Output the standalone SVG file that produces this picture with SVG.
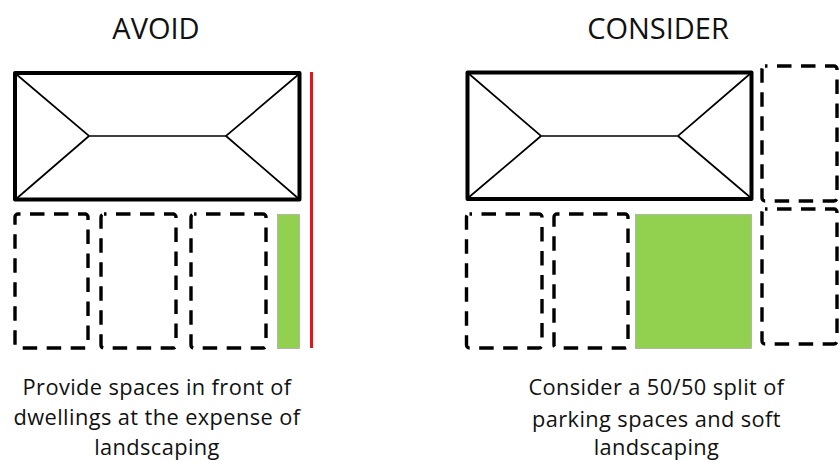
<svg xmlns="http://www.w3.org/2000/svg" width="839" height="461" viewBox="0 0 839 461">
<style>
text{font-family:"Open Sans","Noto Sans","Liberation Sans",sans-serif;fill:#111;text-anchor:middle}
.h{font-size:29px}
.c{font-size:21.800px;letter-spacing:.4px}
.o{fill:#fff;stroke:#000;stroke-width:4;stroke-linejoin:round}
.r{fill:none;stroke:#000;stroke-width:1.7}
.d{fill:none;stroke:#000;stroke-width:3.400;stroke-dasharray:14.500 9.500;stroke-dashoffset:12}
.g{fill:#92d050;stroke:#a6a6a6;stroke-width:.7}
</style>
<rect width="839" height="461" fill="#fff"/>
<g id="avoid-title"><text class="h" x="156" y="38.500">AVOID</text></g>
<g id="consider-title"><text class="h" x="658" y="38.500">CONSIDER</text></g>
<g id="avoid-building">
<rect class="o" x="15" y="73" width="284.500" height="126.500"/>
<path class="r" d="M16 74L89 136L226 136L299 74M16 199L89 136M226 136L299 199"/>
</g>
<g id="avoid-space-1"><rect class="d" x="15" y="214" width="73" height="134" rx="3"/></g>
<g id="avoid-space-2"><rect class="d" x="101" y="214" width="75" height="134" rx="3"/></g>
<g id="avoid-space-3"><rect class="d" x="191" y="214" width="75" height="134" rx="3"/></g>
<g id="avoid-green"><rect class="g" x="277.500" y="214.500" width="22" height="134"/></g>
<g id="avoid-boundary"><rect x="310" y="72" width="3" height="276" fill="#e8141c"/></g>
<g id="consider-building">
<rect class="o" x="467.500" y="72.500" width="284" height="126.500"/>
<path class="r" d="M468 73L541 136L678 136L751 73M468 198L541 136M678 136L751 198"/>
</g>
<g id="consider-space-1"><rect class="d" x="466.500" y="214" width="75.500" height="134" rx="3"/></g>
<g id="consider-space-2"><rect class="d" x="554" y="214" width="74" height="134" rx="3"/></g>
<g id="consider-green"><rect class="g" x="635.500" y="214.500" width="116" height="134"/></g>
<g id="consider-space-3"><rect class="d" x="762" y="66" width="75" height="135" rx="3"/></g>
<g id="consider-space-4"><rect class="d" x="762" y="209" width="75" height="135" rx="3"/></g>
<g id="avoid-caption">
<text class="c" x="157" y="395">Provide spaces in front of</text>
<text class="c" x="157" y="425">dwellings at the expense of</text>
<text class="c" x="157" y="455">landscaping</text>
</g>
<g id="consider-caption">
<text class="c" x="656.500" y="395">Consider a 50/50 split of</text>
<text class="c" x="656.500" y="427">parking spaces and soft</text>
<text class="c" x="656.500" y="455">landscaping</text>
</g>
<g id="connectors"></g>
</svg>
